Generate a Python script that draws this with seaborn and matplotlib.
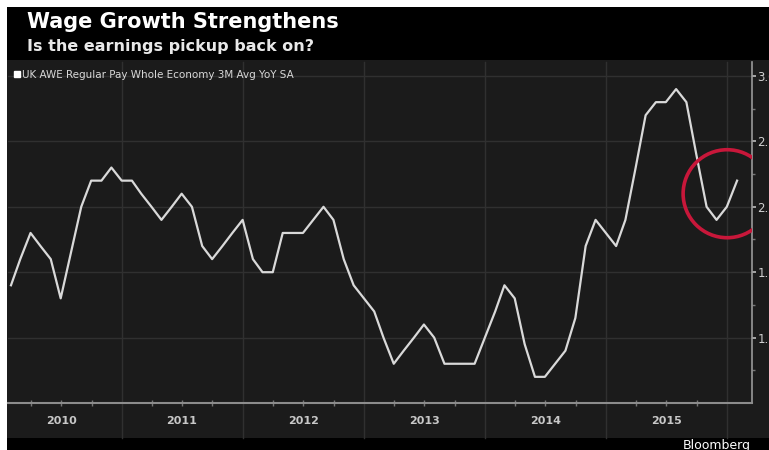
import numpy as np
import pandas as pd
import matplotlib
matplotlib.use("Agg")
import matplotlib.pyplot as plt
import matplotlib.dates as mdates
from matplotlib.patches import Rectangle, Ellipse
from matplotlib.lines import Line2D
import seaborn as sns

# ---------------- data ----------------
start_month = "2010-01-31"
series_name = "UK AWE Regular Pay Whole Economy 3M Avg YoY SA"
wage_growth = [
    1.4, 1.6, 1.8, 1.7, 1.6, 1.3, 1.65, 2.0, 2.2, 2.2, 2.3, 2.2,   # 2010
    2.2, 2.1, 2.0, 1.9, 2.0, 2.1, 2.0, 1.7, 1.6, 1.7, 1.8, 1.9,     # 2011
    1.6, 1.5, 1.5, 1.8, 1.8, 1.8, 1.9, 2.0, 1.9, 1.6, 1.4, 1.3,     # 2012
    1.2, 1.0, 0.8, 0.9, 1.0, 1.1, 1.0, 0.8, 0.8, 0.8, 0.8, 1.0,     # 2013
    1.2, 1.4, 1.3, 0.95, 0.7, 0.7, 0.8, 0.9, 1.15, 1.7, 1.9, 1.8,   # 2014
    1.7, 1.9, 2.3, 2.7, 2.8, 2.8, 2.9, 2.8, 2.4, 2.0, 1.9, 2.0,     # 2015
    2.2,                                                            # 2016
]
year_labels = ["2010", "2011", "2012", "2013", "2014", "2015"]
ytick_values = [1.0, 1.5, 2.0, 2.5, 3.0]
title = "Wage Growth Strengthens"
subtitle = "Is the earnings pickup back on?"
source = "Bloomberg"
highlight_center = ("2016-01-01", 2.10)

dates = pd.date_range(start_month, periods=len(wage_growth), freq="ME")
df = pd.DataFrame({"date": dates, "value": wage_growth})

# ---------------- figure ----------------
W, H = 769, 450
fig = plt.figure(figsize=(W / 100, H / 100), dpi=100)
fig.patch.set_facecolor("white")

def px_rect(x0, y0, x1, y1, color, z=0):
    r = Rectangle((x0 / W, 1 - y1 / H), (x1 - x0) / W, (y1 - y0) / H,
                  transform=fig.transFigure, facecolor=color, edgecolor="none",
                  zorder=z)
    fig.add_artist(r)

BG = "#1b1b1b"
px_rect(7, 7, W, H, "black", z=-10)
px_rect(7, 60, W, 438, BG, z=-9)

ax_left, ax_right, ax_top, ax_bottom = 8, 752, 62, 403
ax = fig.add_axes([ax_left / W, 1 - ax_bottom / H,
                   (ax_right - ax_left) / W, (ax_bottom - ax_top) / H])
ax.set_facecolor(BG)
ax.patch.set_alpha(0)

sns.lineplot(data=df, x="date", y="value", ax=ax, color="#d9d9d9",
             linewidth=1.6, label=series_name, zorder=5)

ax.set_xlim(pd.Timestamp("2010-01-22"), pd.Timestamp("2016-03-16"))
ax.set_ylim(0.5, 3.107)

# y axis on the right
ax.yaxis.tick_right()
ax.set_yticks(ytick_values)
ax.set_yticklabels([f"{v:.1f}" for v in ytick_values])
ax.set_yticks(np.arange(0.75, 3.1, 0.5), minor=True)
ax.tick_params(axis="y", which="major", colors="#bbbbbb", labelcolor="#d0d0d0",
               length=3, width=1.2, pad=1, labelsize=8.5)
ax.tick_params(axis="y", which="minor", colors="#777777", length=2, width=1)

# x axis
ax.xaxis.set_major_locator(mdates.YearLocator())
ax.xaxis.set_minor_locator(mdates.MonthLocator(bymonth=[4, 7, 10]))
ax.xaxis.set_major_formatter(plt.NullFormatter())
ax.tick_params(axis="x", which="major", length=0)
ax.tick_params(axis="x", which="minor", colors="#777777", length=4,
               direction="inout", width=1)

for s in ["top", "left"]:
    ax.spines[s].set_visible(False)
ax.spines["right"].set_color("#9a9a9a")
ax.spines["right"].set_linewidth(1.2)
ax.spines["bottom"].set_color("#8c8c8c")
ax.spines["bottom"].set_linewidth(1.5)

# grid
ax.grid(False)
for v in ytick_values:
    ax.axhline(v, color="#303030", linewidth=1.0, zorder=1)
label_band = (438 - ax_bottom) / (ax_bottom - ax_top)
for yr in range(2011, 2017):
    ax.axvline(pd.Timestamp(f"{yr}-01-01"), ymin=-label_band, ymax=1,
               color="#303030", linewidth=1.0, clip_on=False, zorder=1)

# year labels
for lab in year_labels:
    ax.text(pd.Timestamp(f"{lab}-07-01"), -label_band / 2, lab,
            transform=ax.get_xaxis_transform(), ha="center", va="center",
            color="#c8c8c8", fontsize=8, fontweight="bold")

# highlight circle
cx = mdates.date2num(pd.Timestamp(highlight_center[0]))
days_per_px = 365.25 / 121.0
units_per_px = 0.5 / 65.4
circ = Ellipse((cx, highlight_center[1]), width=88 * days_per_px,
               height=88 * units_per_px, fill=False, edgecolor="#c8173a",
               linewidth=2.6, zorder=6)
ax.add_patch(circ)

# legend with square marker
handles, labels = ax.get_legend_handles_labels()
sq = Line2D([], [], marker="s", color="white", linestyle="none", markersize=5)
leg = ax.legend([sq], labels, loc="center left", frameon=False, fontsize=7.5,
                handlelength=0.6, handletextpad=0.2, borderaxespad=0,
                borderpad=0, bbox_to_anchor=(6 / 744, 1 - 13 / 341))
for t in leg.get_texts():
    t.set_color("#d8d8d8")
ax.set_xlabel("")
ax.set_ylabel("")

# titles
fig.text(27 / W, 1 - 22 / H, title, color="white", fontsize=15,
         fontweight="bold", va="center", ha="left")
fig.text(27 / W, 1 - 46 / H, subtitle, color="#e8e8e8", fontsize=11.5,
         fontweight="bold", va="center", ha="left")
fig.text(683 / W, 1 - 439 / H, source, color="white", fontsize=9,
         va="top", ha="left")

fig.savefig("out.png", dpi=100, facecolor=fig.get_facecolor())
